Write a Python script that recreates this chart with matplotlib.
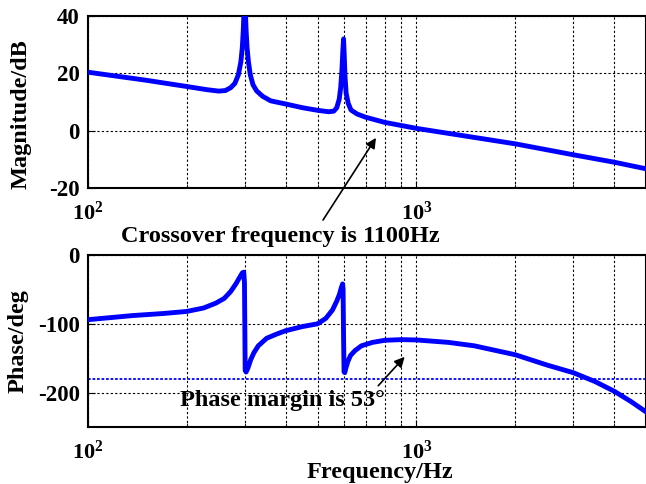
import matplotlib
matplotlib.use('Agg')
import matplotlib.pyplot as plt
from matplotlib.ticker import NullFormatter, LogLocator

plt.rcParams['font.family'] = 'Liberation Serif'
plt.rcParams['font.weight'] = 'bold'
plt.rcParams['mathtext.fontset'] = 'custom'
plt.rcParams['mathtext.rm'] = 'Liberation Serif:bold'
plt.rcParams['mathtext.default'] = 'rm'
plt.rcParams['axes.unicode_minus'] = False

# magnitude (Hz, dB)
mag_freq = [100, 150, 200, 230, 250, 262, 272, 280, 287, 292, 295, 297, 300,
            303, 305, 308, 312, 318, 326, 340, 360, 400, 450, 500, 540, 560,
            572, 582, 588, 593, 597, 600, 603, 606, 611, 620, 632, 660, 700,
            800, 1000, 2000, 3000, 4000, 5000]
mag_db = [20.4, 17.6, 15.4, 14.3, 13.8, 14.0, 15.0, 16.5, 19.5, 24.0, 29.0, 35.0, 48.0,
          35.0, 29.0, 24.0, 19.5, 16.0, 13.9, 12.0, 10.4, 9.3, 8.0, 7.1, 6.6, 6.8,
          8.0, 11.0, 15.0, 21.0, 28.0, 32.0, 26.0, 19.0, 13.0, 9.5, 7.2, 5.8, 4.7,
          2.9, 0.8, -4.6, -8.4, -11.0, -13.3]

# phase (Hz, deg)
phase_freq = [100, 137, 170, 200, 225, 245, 260, 272, 282, 290, 295, 298, 299.5,
              301, 303, 307, 313, 320, 330, 350, 375, 400, 450, 500, 530, 555,
              572, 583, 591, 596, 598, 600, 602, 605, 610, 618, 630, 650, 680,
              735, 800, 900, 1000, 1250, 1500, 2000, 2500, 3000, 3500, 4000,
              4500, 5000]
phase_deg = [-94, -88, -85, -82, -77, -70, -63, -53, -42, -32, -26, -25, -40,
             -168, -170, -164, -152, -142, -132, -121, -115, -110, -104, -100, -92, -80,
             -67, -57, -47, -42, -50, -120, -170, -171, -164, -155, -146, -139, -132,
             -127, -124, -123, -123.5, -127, -132, -145, -160, -171, -184, -198,
             -213, -228]

pm_line = -180

blue = (0, 0, 1)

fig = plt.figure(figsize=(6.46, 4.84), dpi=100)
ax1 = fig.add_axes([88/646, 1-188/484, 558/646, 172/484])
ax2 = fig.add_axes([88/646, 1-427/484, 558/646, 172/484])

ax1.plot(mag_freq, mag_db, color=blue, lw=3.5, solid_joinstyle='round', zorder=3)
ax2.plot(phase_freq, phase_deg, color=blue, lw=3.5, solid_joinstyle='round', zorder=3)
ax2.axhline(pm_line, color=blue, lw=1.3, linestyle=(0, (1.5, 1)), zorder=2)

for ax in (ax1, ax2):
    ax.set_xscale('log')
    ax.set_xlim(100, 5000)
    ax.xaxis.set_major_locator(LogLocator(base=10))
    ax.xaxis.set_minor_locator(LogLocator(base=10, subs=range(2, 10)))
    ax.xaxis.set_minor_formatter(NullFormatter())
    ax.grid(True, which='both', color='black', linestyle=(0, (2, 2)), lw=0.8)
    ax.tick_params(which='both', direction='in')
    ax.tick_params(axis='y', labelsize=16.5, pad=6)
    ax.tick_params(axis='x', which='both', labelsize=16, pad=10)
    ax.tick_params(which='major', length=5)
    ax.tick_params(which='minor', length=3)
    for s in ax.spines.values():
        s.set_linewidth(1.5)

ax1.set_ylim(-20, 40)
ax1.set_yticks([-20, 0, 20, 40])
ax2.set_ylim(-250, 0)
ax2.set_yticks([-200, -100, 0])

ax1.set_ylabel('Magnitude/dB', fontsize=17.5, fontweight='bold')
ax1.yaxis.set_label_coords(-0.102, 0.43)
ax2.set_ylabel('Phase/deg', fontsize=17.5, fontweight='bold')
ax2.yaxis.set_label_coords(-0.106, 0.5)
ax2.set_xlabel('Frequency/Hz', fontsize=17.5, fontweight='bold')
ax2.xaxis.set_label_coords(0.523, -0.205)

# annotations
ax1.text(384, -36.9, 'Crossover frequency is 1100Hz', fontsize=17.5, fontweight='bold',
         ha='center', va='center', clip_on=False)
ax1.annotate('', xy=(761, -1.7), xytext=(514, -32), annotation_clip=False,
             arrowprops=dict(arrowstyle='-|>', color='black', lw=1.2, mutation_scale=15))

ax2.text(392, -212, 'Phase margin is 53°', fontsize=17.5, fontweight='bold',
         ha='center', va='center', zorder=4)
ax2.annotate('', xy=(933, -145), xytext=(755, -193),
             arrowprops=dict(arrowstyle='-|>', color='black', lw=1.2, mutation_scale=15))

fig.savefig('out.png', dpi=100)
